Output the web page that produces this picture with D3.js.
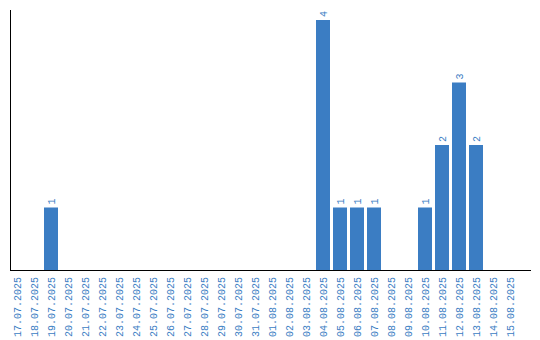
<!DOCTYPE html>
<html>
<head>
<meta charset="utf-8">
<script src="https://cdn.jsdelivr.net/npm/d3@7"></script>
<style>
  body { margin: 0; background: #fff; }
  text { font-family: "Liberation Mono", monospace; }
</style>
</head>
<body>
<script>
// dates shown on the x axis
var dates = ["17.07.2025","18.07.2025","19.07.2025","20.07.2025","21.07.2025","22.07.2025",
  "23.07.2025","24.07.2025","25.07.2025","26.07.2025","27.07.2025","28.07.2025","29.07.2025",
  "30.07.2025","31.07.2025","01.08.2025","02.08.2025","03.08.2025","04.08.2025","05.08.2025",
  "06.08.2025","07.08.2025","08.08.2025","09.08.2025","10.08.2025","11.08.2025","12.08.2025",
  "13.08.2025","14.08.2025","15.08.2025"];
var counts = [0,0,1,0,0,0,0,0,0,0,0,0,0,0,0,0,0,0,4,1,1,1,0,0,1,2,3,2,0,0];

var blue = "#3b7dc3";
var width = 540, height = 340;
var left = 10, bottom = 270;

var svg = d3.select("body").append("svg")
    .attr("width", width)
    .attr("height", height);

// step of 17px, bar 14px wide
var x = d3.scaleBand().domain(dates).range([left, left + 17 * dates.length - 3])
    .paddingInner(3 / 17).paddingOuter(0);
var y = d3.scaleLinear().domain([0, 4]).range([bottom, 20]);

var data = dates.map(function(d, i) { return {date: d, value: counts[i]}; });

// bars
svg.selectAll(".bar")
    .data(data.filter(function(d) { return d.value > 0; }))
  .enter().append("rect")
    .attr("class", "bar")
    .attr("x", function(d) { return x(d.date); })
    .attr("y", function(d) { return y(d.value); })
    .attr("width", x.bandwidth())
    .attr("height", function(d) { return bottom - y(d.value); })
    .style("fill", blue);

// value labels
svg.selectAll(".val")
    .data(data.filter(function(d) { return d.value > 0; }))
  .enter().append("text")
    .attr("class", "val")
    .attr("transform", function(d) {
      return "translate(" + (x(d.date) + x.bandwidth() / 2 + 3.5) + "," + (y(d.value) - 3) + ") rotate(-90)";
    })
    .style("font-size", "10px")
    .style("fill", blue)
    .text(function(d) { return d.value; });

// x axis
var xAxis = svg.append("g")
    .attr("transform", "translate(0," + bottom + ")")
    .call(d3.axisBottom(x).tickSize(0).tickSizeOuter(0));
xAxis.select(".domain").attr("d", "M" + left + ",0.5H531").attr("stroke", "#000");
xAxis.selectAll("text")
    .attr("transform", "rotate(-90)")
    .attr("x", -7)
    .attr("y", 0)
    .attr("dy", "0.35em")
    .style("text-anchor", "end")
    .style("font-size", "10px")
    .style("font-family", "'Liberation Mono', monospace")
    .style("fill", blue);

// y axis line
svg.append("line")
    .attr("x1", left + 0.5).attr("x2", left + 0.5)
    .attr("y1", 10).attr("y2", bottom + 1)
    .attr("stroke", "#000");
</script>
</body>
</html>
